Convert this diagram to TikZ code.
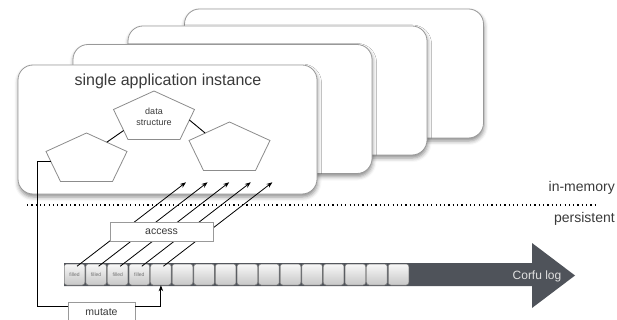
\documentclass[tikz,border=0pt]{standalone}
\usepackage{fontspec}
\setmainfont{Liberation Sans}
\usetikzlibrary{shadows.blur,arrows.meta,calc}
\definecolor{txt}{HTML}{3A3A3A}
\definecolor{edgec}{HTML}{8C8C8C}
\definecolor{logc}{HTML}{4F535A}
\begin{document}
\begin{tikzpicture}[x=1pt,y=-1pt,
  win/.style={draw=black!40, line width=0.8pt, fill=white, rounded corners=15pt,
    minimum width=299pt, minimum height=129pt, inner sep=0pt,
    blur shadow={shadow xshift=0.5pt, shadow yshift=-3pt, shadow blur radius=4pt, shadow opacity=45}},
  pentline/.style={draw=edgec, line width=0.8pt, fill=white},
  pics/pent/.style={code={
    \draw[pentline] (0,0) -- (40.5,18.5) -- (26,48.5) -- (-26,48.5) -- (-40.5,18.5) -- cycle;
    \coordinate (-t) at (0,0);
    \coordinate (-r) at (40.5,18.5);
    \coordinate (-br) at (26,48.5);
    \coordinate (-bl) at (-26,48.5);
    \coordinate (-l) at (-40.5,18.5);
  }},
  conn/.style={draw=black, line width=0.9pt},
  tip/.style={-{Stealth[length=6pt,width=4.5pt]}},
  box/.style={draw=black!40, fill=white, line width=0.8pt, inner sep=0pt, text=txt},
  cell/.style={draw=black!50, line width=0.5pt, rounded corners=2.5pt, minimum width=20.5pt,
    minimum height=21pt, inner sep=0pt, top color=black!3, bottom color=black!22,
    font=\fontsize{5}{5}\selectfont, text=black!55},
  lbl/.style={text=txt, inner sep=0pt}
]
\useasboundingbox (0,0) rectangle (617,320);

% stacked application windows
\node[win] (w4) at (334,73.5) {};
\node[win] (w3) at (277.5,90.5) {};
\node[win] (w2) at (222.5,109) {};
\node[win] (w1) at (167.5,129.5) {};
\node[lbl, font=\fontsize{16}{18}\selectfont] (title) at (168,81) {single application instance};

% data structure pentagons
\pic (ds) at (154,91) {pent};
\pic (lp) at (86.5,133) {pent};
\pic (rp) at (229.5,122) {pent};
\node[lbl, font=\fontsize{9}{10.5}\selectfont, align=center] (dstext) at (154,117) {data\\structure};

\draw[conn] ($(lp-t)!0.5!(lp-r)$) -- ($(ds-l)!0.7!(ds-bl)$);
\draw[conn] ($(ds-r)!0.35!(ds-br)$) -- ($(rp-t)!0.6!(rp-l)$);

% separator
\draw[line width=1.3pt, dash pattern=on 1.2pt off 3.1pt] (27,205) -- (597,205);
\node[lbl, anchor=east, font=\fontsize{14}{16}\selectfont] (inmem) at (615,188) {in-memory};
\node[lbl, anchor=east, font=\fontsize{14}{16}\selectfont] (persist) at (615,219) {persistent};

% Corfu log arrow
\fill[logc] (64,263) -- (532,263) -- (532,243) -- (575,275.5) -- (532,308) -- (532,286) -- (64,286) -- cycle;
\node[lbl, text=black!12, font=\fontsize{12}{14}\selectfont] (corfu) at (537,276) {Corfu log};

% log cells
\foreach \i in {1,...,16} {
  \node[cell] (c\i) at ({74.5+(\i-1)*21.6},274.5) {\ifnum\i<5 filled\fi};
}

% access arrows
\foreach \i in {1,...,5} {
  \coordinate (s\i) at ($(c\i.north)+(2.5,2.5)$);
  \coordinate (e\i) at ($(s\i)+(109,-84)$);
  \draw[conn, line width=0.8pt, tip] (s\i) -- (e\i);
}
\node[box, minimum width=103pt, minimum height=19pt, font=\fontsize{10.5}{12}\selectfont] (access) at (161.5,231.5) {access};

% mutate path
\node[box, minimum width=67pt, minimum height=20pt, font=\fontsize{10.5}{12}\selectfont] (mutate) at (101.5,312) {mutate};
\coordinate (mstart) at ($(lp-l)!0.33!(lp-bl)$);
\coordinate (mbend) at (37,306);
\draw[conn] (mstart) -| (mbend) -- (mbend -| mutate.west);
\draw[conn, tip] (mbend -| mutate.east) -| (c5.south);
\end{tikzpicture}
\end{document}
